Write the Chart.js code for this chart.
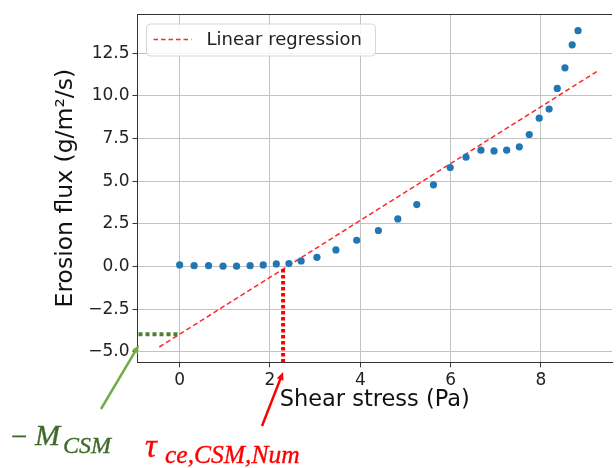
<!DOCTYPE html>
<html>
<head>
<meta charset="utf-8">
<script src="https://cdn.jsdelivr.net/npm/chart.js@4.4.1/dist/chart.umd.min.js"></script>
<style>
  body { margin: 0; background: #fff; overflow: hidden; }
  #wrap { width: 616px; height: 468px; }
</style>
</head>
<body>
<div id="wrap"><canvas id="chart" width="616" height="468"></canvas></div>
<script>
'use strict';

// measured points (shear stress in Pa, erosion flux in g/m2/s)
const shearStress = [0, 0.32, 0.64, 0.96, 1.26, 1.56, 1.85, 2.14, 2.42, 2.69, 3.04, 3.46, 3.92, 4.40, 4.83, 5.25,
    5.62, 5.99, 6.34, 6.67, 6.96, 7.24, 7.52, 7.74, 7.96, 8.18, 8.36, 8.53, 8.69, 8.82];
const erosionFlux = [0.09, 0.05, 0.05, 0.02, 0.02, 0.05, 0.09, 0.15, 0.17, 0.33, 0.54, 0.97, 1.54, 2.11, 2.79, 3.63,
    4.79, 5.80, 6.41, 6.82, 6.78, 6.82, 7.02, 7.74, 8.70, 9.23, 10.44, 11.65, 13.0, 13.83];

// regression line end points
const regX = [-0.45, 9.24];
const regY = [-4.72, 11.44];

// critical shear stress and intercept markers
const tauCe = 2.29;
const mCsm = -3.97;

const xTicks = [0, 2, 4, 6, 8];
const yTicks = [-5, -2.5, 0, 2.5, 5, 7.5, 10, 12.5];

const FONT = "'DejaVu Sans', sans-serif";
const SERIF = "'Liberation Serif', serif";

function arrow(ctx, x0, y0, x1, y1, color) {
    const ang = Math.atan2(y1 - y0, x1 - x0);
    ctx.strokeStyle = color;
    ctx.fillStyle = color;
    ctx.lineWidth = 2.5;
    ctx.setLineDash([]);
    ctx.beginPath();
    ctx.moveTo(x0, y0);
    ctx.lineTo(x1 - 6 * Math.cos(ang), y1 - 6 * Math.sin(ang));
    ctx.stroke();
    ctx.beginPath();
    ctx.moveTo(x1, y1);
    ctx.lineTo(x1 - 8 * Math.cos(ang) + 3.5 * Math.sin(ang), y1 - 8 * Math.sin(ang) - 3.5 * Math.cos(ang));
    ctx.lineTo(x1 - 8 * Math.cos(ang) - 3.5 * Math.sin(ang), y1 - 8 * Math.sin(ang) + 3.5 * Math.cos(ang));
    ctx.closePath();
    ctx.fill();
}

// text a little heavier than the plain serif
function label(ctx, txt, px, py, size, color) {
    ctx.font = 'italic ' + size + 'px ' + SERIF;
    ctx.fillStyle = color;
    ctx.strokeStyle = color;
    ctx.lineWidth = 0.35;
    ctx.setLineDash([]);
    ctx.fillText(txt, px, py);
    ctx.strokeText(txt, px, py);
}

// top spine, dotted markers, legend and the hand-drawn labels
const overlay = {
    id: 'overlay',
    afterDatasetsDraw(chart) {
        const ctx = chart.ctx;
        const a = chart.chartArea;
        const x = chart.scales.x;
        const y = chart.scales.y;
        ctx.save();

        ctx.strokeStyle = '#333';
        ctx.lineWidth = 1;
        ctx.beginPath();
        ctx.moveTo(a.left, a.top + 0.5);
        ctx.lineTo(a.right, a.top + 0.5);
        ctx.stroke();

        // green dotted: intercept
        ctx.lineWidth = 4;
        ctx.setLineDash([4, 3]);
        ctx.strokeStyle = '#4f7f2e';
        ctx.beginPath();
        ctx.moveTo(a.left + 1, y.getPixelForValue(mCsm));
        ctx.lineTo(x.getPixelForValue(0), y.getPixelForValue(mCsm));
        ctx.stroke();

        // red dotted: critical shear stress
        const yOnLine = regY[0] + (tauCe - regX[0]) * (regY[1] - regY[0]) / (regX[1] - regX[0]);
        ctx.strokeStyle = '#ff0000';
        ctx.setLineDash([3.5, 2.5]);
        ctx.beginPath();
        ctx.moveTo(x.getPixelForValue(tauCe), y.getPixelForValue(yOnLine));
        ctx.lineTo(x.getPixelForValue(tauCe), a.bottom);
        ctx.stroke();

        // legend
        const lx = a.left + 9, ly = a.top + 10, lw = 229, lh = 32;
        ctx.setLineDash([]);
        ctx.fillStyle = 'rgba(255,255,255,0.85)';
        ctx.strokeStyle = '#d6d6d6';
        ctx.lineWidth = 1;
        ctx.beginPath();
        ctx.roundRect(lx, ly, lw, lh, 4);
        ctx.fill();
        ctx.stroke();
        ctx.strokeStyle = 'rgba(255,0,0,0.85)';
        ctx.lineWidth = 1.5;
        ctx.setLineDash([4.5, 3]);
        ctx.beginPath();
        ctx.moveTo(lx + 7, ly + 15.5);
        ctx.lineTo(lx + 45, ly + 15.5);
        ctx.stroke();
        ctx.fillStyle = '#222';
        ctx.font = '18px ' + FONT;
        ctx.textBaseline = 'middle';
        ctx.fillText(chart.data.datasets[1].label, lx + 60, ly + 16.5);

        // arrows below the axes
        arrow(ctx, 101, 409, a.left + 1.5, 345, '#70ad47');
        arrow(ctx, 262, 426, x.getPixelForValue(tauCe), 372, '#ff0000');

        ctx.textBaseline = 'alphabetic';
        label(ctx, '\u2212', 9, 446, 29, '#3f6a2a');
        label(ctx, 'M', 35, 445, 30, '#3f6a2a');
        label(ctx, 'CSM', 63, 453, 24, '#3f6a2a');

        label(ctx, '\u03c4', 145, 457, 33, '#ff0000');
        label(ctx, 'ce,CSM,Num', 165, 463, 25.5, '#ff0000');

        ctx.restore();
    }
};

new Chart(document.getElementById('chart'), {
    type: 'scatter',
    data: {
        datasets: [
            {
                label: 'Erosion flux',
                data: shearStress.map((s, i) => ({ x: s, y: erosionFlux[i] })),
                backgroundColor: '#1f77b4',
                borderColor: '#1f77b4',
                borderWidth: 0,
                pointRadius: 3.6
            },
            {
                label: 'Linear regression',
                data: regX.map((s, i) => ({ x: s, y: regY[i] })),
                showLine: true,
                borderColor: 'rgba(255,0,0,0.85)',
                borderWidth: 1.5,
                borderDash: [5, 3],
                pointRadius: 0,
                fill: false
            }
        ]
    },
    options: {
        responsive: false,
        animation: false,
        layout: { padding: { left: 0, top: 14, right: 0, bottom: 0 } },
        plugins: {
            legend: { display: false },
            tooltip: { enabled: false }
        },
        scales: {
            x: {
                type: 'linear',
                min: -0.933,
                max: 9.572,
                afterFit: s => { s.height = 105.7; },
                afterBuildTicks: s => { s.ticks = xTicks.map(v => ({ value: v })); },
                grid: { color: '#c2c2c2', lineWidth: 1, tickLength: 5, tickColor: '#333' },
                border: { color: '#333', width: 1 },
                ticks: { font: { family: FONT, size: 17 }, color: '#222', padding: 3, maxRotation: 0 },
                title: {
                    display: true,
                    text: 'Shear stress (Pa)',
                    font: { family: FONT, size: 22.5 },
                    color: '#111',
                    padding: { top: 0, bottom: 54 }
                }
            },
            y: {
                type: 'linear',
                min: -5.617,
                max: 14.806,
                afterFit: s => { s.width = 137.5; },
                afterBuildTicks: s => { s.ticks = yTicks.map(v => ({ value: v })); },
                grid: { color: '#c2c2c2', lineWidth: 1, tickLength: 5, tickColor: '#333' },
                border: { color: '#333', width: 1 },
                ticks: {
                    font: { family: FONT, size: 17 },
                    color: '#222',
                    padding: 3,
                    callback: v => (v < 0 ? '\u2212' : '') + Math.abs(v).toFixed(1)
                },
                title: {
                    display: true,
                    text: 'Erosion flux (g/m\u00b2/s)',
                    font: { family: FONT, size: 23.5 },
                    color: '#111',
                    padding: { top: 52, bottom: 0 }
                }
            }
        }
    },
    plugins: [overlay]
});
</script>
</body>
</html>
